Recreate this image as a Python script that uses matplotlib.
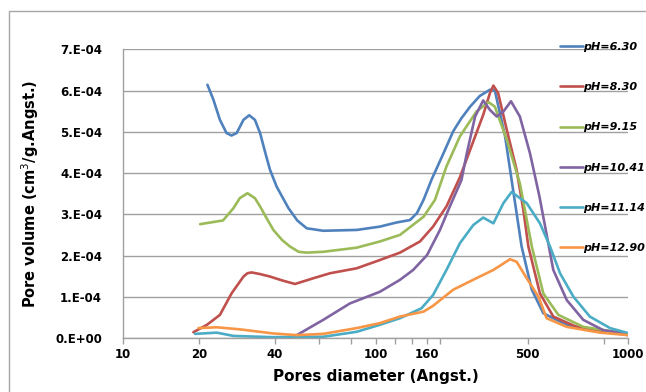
import matplotlib
matplotlib.use("Agg")
import matplotlib.pyplot as plt
from matplotlib.patches import Rectangle
import numpy as np

# pore diameter (Angst.) and pore volume (1e-4 cm3/g.Angst.)
d_630 = [21.6, 22.8, 24.2, 25.7, 26.9, 28.2, 30.0, 31.6, 33.3, 34.9, 36.5, 38.2, 40.6, 45.2,
         49.0, 53.4, 62.1, 84.2, 104, 121, 137, 146, 155, 167, 185, 203, 219, 237, 259, 284,
         297, 326, 346, 379, 416, 462, 572, 775, 1000]
v_630 = [6.14, 5.78, 5.29, 4.97, 4.91, 4.97, 5.29, 5.40, 5.29, 4.97, 4.52, 4.08, 3.67, 3.15,
         2.85, 2.66, 2.60, 2.62, 2.70, 2.80, 2.86, 3.03, 3.35, 3.85, 4.45, 5.01, 5.33, 5.61, 5.87, 6.02,
         6.00, 4.89, 3.83, 2.22, 1.17, 0.60, 0.32, 0.15, 0.10]

d_830 = [19.0, 21.5, 24.2, 26.9, 30.0, 31.1, 32.3, 34.9, 38.2, 43.0, 48.0, 56.8, 66.1, 84.2, 104,
         125, 150, 169, 191, 216, 244, 267, 284, 293, 306, 331, 362, 385, 403, 448, 506, 626, 1000]
v_830 = [0.14, 0.32, 0.56, 1.08, 1.49, 1.57, 1.59, 1.55, 1.49, 1.39, 1.31, 1.45, 1.57, 1.69, 1.89,
         2.07, 2.34, 2.70, 3.19, 3.90, 4.77, 5.41, 5.94, 6.12, 5.94, 5.05, 4.08, 3.11, 2.22, 1.08,
         0.52, 0.27, 0.07]

d_915 = [20.2, 24.9, 27.4, 29.0, 31.1, 33.3, 34.9, 37.0, 39.4, 42.6, 45.8, 49.6, 53.4, 62.1,
         84.2, 104, 125, 155, 172, 191, 216, 251, 280, 297, 331, 373, 416, 462, 530, 665, 1000]
v_915 = [2.76, 2.85, 3.15, 3.39, 3.51, 3.39, 3.19, 2.91, 2.62, 2.38, 2.22, 2.09, 2.07, 2.09,
         2.19, 2.34, 2.50, 2.94, 3.35, 4.16, 4.89, 5.49, 5.72, 5.61, 4.81, 3.75, 2.22, 1.08, 0.56,
         0.27, 0.10]

d_1041 = [48.8, 62.1, 79.3, 104, 125, 141, 160, 180, 197, 219, 230, 248, 267, 284, 302,
          321, 344, 373, 409, 446, 506, 572, 665, 798, 1000]
v_1041 = [0.07, 0.44, 0.84, 1.12, 1.41, 1.65, 2.01, 2.62, 3.19, 3.83, 4.48, 5.37, 5.76, 5.53, 5.37,
          5.49, 5.74, 5.37, 4.48, 3.43, 1.65, 0.92, 0.44, 0.19, 0.10]

d_1114 = [19.3, 23.5, 27.4, 39.4, 62.1, 84.2, 104, 125, 152, 169, 191, 216, 244, 267, 293,
          321, 346, 397, 448, 491, 538, 608, 706, 849, 1000]
v_1114 = [0.10, 0.13, 0.05, 0.02, 0.03, 0.15, 0.32, 0.48, 0.72, 1.04, 1.65, 2.30, 2.74, 2.92, 2.78,
          3.27, 3.54, 3.27, 2.78, 2.22, 1.57, 1.00, 0.52, 0.24, 0.12]

d_1290 = [19.9, 23.5, 29.0, 39.4, 48.8, 62.1, 84.2, 104, 125, 155, 169, 203, 251, 293,
          341, 362, 397, 442, 476, 572, 775, 1000]
v_1290 = [0.24, 0.26, 0.21, 0.11, 0.07, 0.10, 0.24, 0.36, 0.52, 0.64, 0.78, 1.17, 1.45, 1.65,
          1.91, 1.85, 1.45, 1.00, 0.48, 0.27, 0.13, 0.07]

labels = ["pH=6.30", "pH=8.30", "pH=9.15", "pH=10.41", "pH=11.14", "pH=12.90"]
colors = ["#4F81BD", "#C0504D", "#9BBB59", "#8064A2", "#4BACC6", "#F79646"]
series = [(d_630, v_630), (d_830, v_830), (d_915, v_915),
          (d_1041, v_1041), (d_1114, v_1114), (d_1290, v_1290)]

# x axis: tick positions and the text Excel showed under them
x_ticks = [10, 20, 40, 60, 80, 100, 120, 140, 160, 180, 400, 800, 1000]
x_tick_labels = ["10", "20", "40", "", "", "100", "", "", "160", "", "500", "", "1000"]
y_ticks = [0, 1e-4, 2e-4, 3e-4, 4e-4, 5e-4, 6e-4, 7e-4]
y_tick_labels = ["0.E+00", "1.E-04", "2.E-04", "3.E-04", "4.E-04", "5.E-04", "6.E-04", "7.E-04"]

W, H = 646, 392
fig = plt.figure(figsize=(W / 100, H / 100), dpi=100)
ax = fig.add_axes([123 / W, 1 - 338 / H, (628 - 123) / W, (338 - 49.3) / H])

# chart area border
fig.add_artist(Rectangle((9 / W, -0.1), 1.2, 1.1 - 11 / H, transform=fig.transFigure,
                         fill=False, edgecolor="#a6a6a6", linewidth=1))

for (d, v), lab, c in zip(series, labels, colors):
    ax.plot(d, np.array(v) * 1e-4, color=c, linewidth=1.9, label=lab,
            solid_capstyle="round", solid_joinstyle="round")

ax.set_xscale("log")
ax.set_xlim(10, 1000)
ax.set_ylim(0, 7e-4)

ax.xaxis.set_minor_locator(matplotlib.ticker.NullLocator())
ax.set_xticks(x_ticks)
ax.set_xticklabels(x_tick_labels)
ax.set_yticks(y_ticks)
ax.set_yticklabels(y_tick_labels)
ax.tick_params(axis="x", length=4, width=1, color="#a0a0a0", pad=3, labelsize=8.5)
ax.tick_params(axis="y", length=0, pad=15, labelsize=8.5)
for t in ax.get_xticklabels() + ax.get_yticklabels():
    t.set_fontweight("bold")

ax.grid(axis="y", color="#a0a0a0", linewidth=1)
ax.set_axisbelow(True)
for s in ["top", "right"]:
    ax.spines[s].set_visible(False)
for s in ["left", "bottom"]:
    ax.spines[s].set_color("#a0a0a0")
    ax.spines[s].set_linewidth(1)

ax.set_xlabel("Pores diameter (Angst.)", fontsize=11, fontweight="bold", labelpad=6)
ax.set_ylabel("Pore volume (cm$^3$/g.Angst.)", fontsize=10.5, fontweight="bold", labelpad=10)

leg = ax.legend(loc="upper left", bbox_to_anchor=(560 / W, 1 - 42 / H),
                bbox_transform=fig.transFigure, frameon=False,
                prop={"size": 8, "weight": "bold", "style": "italic"},
                handlelength=2.05, handletextpad=0.0, labelspacing=2.72,
                borderpad=0, borderaxespad=0)

fig.savefig("out.png", dpi=100)
